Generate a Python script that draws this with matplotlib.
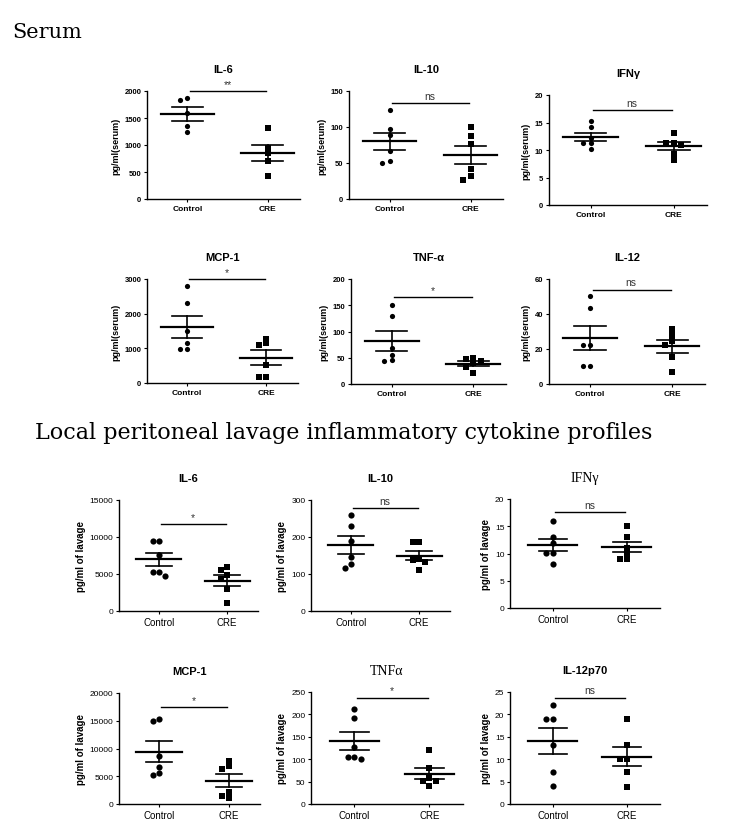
import numpy as np
import matplotlib
matplotlib.use("Agg")
import matplotlib.pyplot as plt

groups = ["Control", "CRE"]

# serum values (pg/ml)
serum_titles = ["IL-6", "IL-10", "IFNγ", "MCP-1", "TNF-α", "IL-12"]
serum_ctrl = [
    [1870, 1830, 1600, 1350, 1240],
    [124, 97.5, 89, 66, 53, 50],
    [15.2, 14.1, 12.1, 11.2, 11.2, 10.2],
    [2808, 2308, 1490, 1154, 990, 990],
    [150, 130, 69, 56, 45, 43],
    [50.1, 43.2, 22.5, 22.5, 10.1, 10.1],
]
serum_cre = [
    [1320, 940, 850, 700, 430],
    [100, 88, 77, 42, 32, 27],
    [13.1, 11.3, 11.3, 11.0, 9.3, 8.2],
    [1279, 1144, 1106, 529, 163, 163],
    [49, 47, 44, 40, 32, 21],
    [31.4, 28.2, 24.8, 22.5, 15.6, 6.7],
]
serum_ymax = [2000, 150, 20, 3000, 200, 60]
serum_ystep = [500, 50, 5, 1000, 50, 20]
serum_sig = ["**", "ns", "ns", "*", "*", "ns"]

# peritoneal lavage values (pg/ml of lavage)
lavage_titles = ["IL-6", "IL-10", "IFNγ", "MCP-1", "TNFα", "IL-12p70"]
lavage_ctrl = [
    [9520, 9520, 7590, 5254, 5254, 4715],
    [260, 229, 190, 146, 128, 116],
    [16.0, 13.0, 12.0, 10.1, 10.1, 8.0],
    [15315, 15015, 8589, 6607, 5586, 5225],
    [211, 193, 127, 104, 104, 100],
    [22.2, 19.0, 19.0, 13.2, 7.1, 4.1],
]
lavage_cre = [
    [5928, 5479, 4805, 4266, 3009, 1078],
    [186, 186, 141, 138, 132, 111],
    [15.0, 13.0, 11.0, 10.1, 9.0, 9.0],
    [7748, 6787, 6306, 2102, 1381, 1021],
    [121, 81, 59, 51, 51, 41],
    [19.0, 13.2, 10.1, 10.1, 7.1, 3.9],
]
lavage_ymax = [15000, 300, 20, 20000, 250, 25]
lavage_ystep = [5000, 100, 5, 5000, 50, 5]
lavage_sig = ["*", "ns", "ns", "*", "*", "ns"]

# layout (pixels of the 746x820 figure): x0, x1, ytop, ybottom
W, H = 746, 820
serum_boxes = [(147, 300, 92, 200), (349, 503, 92, 200), (549, 707, 96, 206),
               (147, 298, 280, 384), (351, 506, 280, 385), (549, 705, 280, 385)]
lavage_boxes = [(119, 258, 501, 612), (311, 450, 501, 612), (510, 660, 500, 609),
                (119, 260, 694, 805), (311, 463, 693, 805), (510, 660, 693, 805)]
serum_bar = [1.0, 0.89, 0.865, 1.0, 0.83, 0.9]
lavage_bar = [0.78, 0.93, 0.88, 0.87, 0.95, 0.95]

SANS = ["Liberation Sans", "DejaVu Sans"]
SERIF = ["Liberation Serif", "DejaVu Serif"]


def swarm(vals, span, d=0.09, thr=0.045):
    # spread points sideways when they would overlap
    placed, xs = [], []
    for v in vals:
        for k in [0, -1, 1, -2, 2, -3, 3]:
            x = k * d
            if all(abs(x - px) > d * 0.5 or abs(v - pv) >= thr * span for px, pv in placed):
                break
        placed.append((x, v))
        xs.append(x)
    return np.array(xs)


def panel(fig, box, title, ctrl, cre, ymax, ystep, sig, barf, ylabel, serum, title_serif):
    x0, x1, yt, yb = box
    ax = fig.add_axes([x0 / W, 1 - yb / H, (x1 - x0) / W, (yb - yt) / H])
    msz = 14 if serum else 20
    for i, (vals, mk) in enumerate([(ctrl, "o"), (cre, "s")]):
        vals = np.array(vals, dtype=float)
        xs = i + swarm(vals, ymax)
        ax.scatter(xs, vals, marker=mk, s=msz if mk == "o" else msz + 2, color="black",
                   linewidths=0, zorder=3, clip_on=False)
        m = vals.mean()
        se = vals.std(ddof=1) / np.sqrt(len(vals))
        ax.plot([i - 0.33, i + 0.33], [m, m], color="black", lw=1.6, zorder=4)
        ax.plot([i - 0.19, i + 0.19], [m + se, m + se], color="black", lw=1.2, zorder=4)
        ax.plot([i - 0.19, i + 0.19], [m - se, m - se], color="black", lw=1.2, zorder=4)
        ax.plot([i, i], [m - se, m + se], color="black", lw=1.2, zorder=4)
    yb_ = barf * ymax
    ax.plot([0.03, 0.98], [yb_, yb_], color="black", lw=1.0, clip_on=False)
    ax.text(0.5, yb_ + 0.02 * ymax, sig, ha="center", va="bottom", fontsize=7.5,
            family=SANS, color="#333333")
    ax.set_ylim(0, ymax)
    ax.set_xlim(-0.5, 1.4) if serum else ax.set_xlim(-0.58, 1.45)
    ax.set_yticks(np.arange(0, ymax + ystep / 2, ystep))
    ax.set_xticks([0, 1])
    ax.set_xticklabels(groups)
    for s in ["top", "right"]:
        ax.spines[s].set_visible(False)
    for s in ["left", "bottom"]:
        ax.spines[s].set_linewidth(1.0)
    ax.tick_params(axis="both", length=2.5, width=0.8, pad=1.5)
    tw = "bold" if serum else "normal"
    for lab in ax.get_yticklabels():
        lab.set_fontsize(5.5 if serum else 6)
        lab.set_fontweight(tw)
        lab.set_family(SANS)
    for lab in ax.get_xticklabels():
        lab.set_fontsize(6 if serum else 7)
        lab.set_fontweight(tw)
        lab.set_family(SANS)
    ax.set_ylabel(ylabel, fontsize=6.5 if serum else 7, fontweight="bold", family=SANS,
                  labelpad=3)
    if title_serif:
        ax.set_title(title, fontsize=10, family=SERIF, pad=13)
    else:
        ax.set_title(title, fontsize=8, fontweight="bold", family=SANS, pad=14)
    return ax


fig = plt.figure(figsize=(W / 100, H / 100), dpi=100)

for k in range(6):
    panel(fig, serum_boxes[k], serum_titles[k], serum_ctrl[k], serum_cre[k], serum_ymax[k],
          serum_ystep[k], serum_sig[k], serum_bar[k], "pg/ml(serum)", True, False)

for k in range(6):
    panel(fig, lavage_boxes[k], lavage_titles[k], lavage_ctrl[k], lavage_cre[k], lavage_ymax[k],
          lavage_ystep[k], lavage_sig[k], lavage_bar[k], "pg/ml of lavage", False,
          lavage_titles[k] in ("IFNγ", "TNFα"))

fig.text(12 / W, 1 - 32 / H, "Serum", fontsize=15, family=["DejaVu Serif"], va="center", ha="left")
fig.text(35 / W, 1 - 433 / H, "Local peritoneal lavage inflammatory cytokine profiles",
         fontsize=16, family=["DejaVu Serif"], va="center", ha="left")

fig.savefig("out.png", dpi=100)
